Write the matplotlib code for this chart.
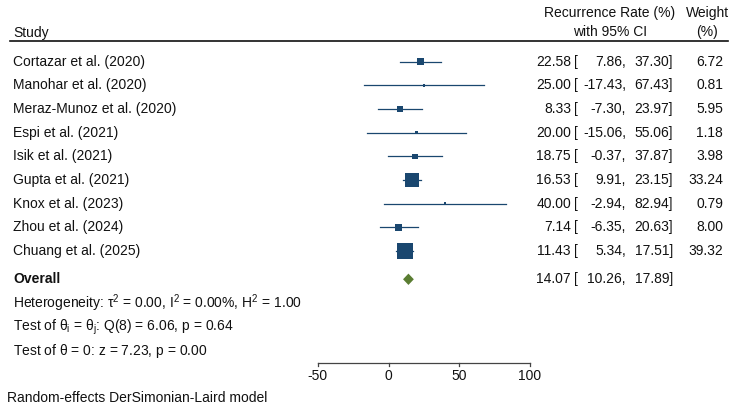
import matplotlib.pyplot as plt
from matplotlib import transforms

plt.rcParams['font.family'] = ['Liberation Sans', 'DejaVu Sans']
plt.rcParams['mathtext.fontset'] = 'custom'
plt.rcParams['mathtext.rm'] = 'Liberation Sans'
plt.rcParams['mathtext.it'] = 'Liberation Sans'

# data
studies = ['Cortazar et al. (2020)', 'Manohar et al. (2020)', 'Meraz-Munoz et al. (2020)',
           'Espi et al. (2021)', 'Isik et al. (2021)', 'Gupta et al. (2021)',
           'Knox et al. (2023)', 'Zhou et al. (2024)', 'Chuang et al. (2025)']
est = [22.58, 25.00, 8.33, 20.00, 18.75, 16.53, 40.00, 7.14, 11.43]
lo = [7.86, -17.43, -7.30, -15.06, -0.37, 9.91, -2.94, -6.35, 5.34]
hi = [37.30, 67.43, 23.97, 55.06, 37.87, 23.15, 82.94, 20.63, 17.51]
weight = [6.72, 0.81, 5.95, 1.18, 3.98, 33.24, 0.79, 8.00, 39.32]
overall = (14.07, 10.26, 17.89)
ticks = [-50, 0, 50, 100]

navy = '#1a476f'
green = '#5a7d32'
ink = '#111111'
W, H = 738, 413

fig = plt.figure(figsize=(W / 100, H / 100), dpi=100)
ax = fig.add_axes([0, 0, 1, 1])
ax.axis('off')
# x in effect units, y in row units
ax.set_xlim(-274.6, 247.0)
ax.set_ylim(14.854, -2.609)

tr = transforms.blended_transform_factory(fig.transFigure, ax.transData)


def txt(xpx, y, s, **kw):
    kw.setdefault('fontsize', 10)
    kw.setdefault('va', 'center')
    ax.text(xpx / W, y, s, transform=tr, color=ink, **kw)


def ci_cols(y, e, l, h):
    txt(571, y, f'{e:.2f}', ha='right')
    txt(574, y, '[', ha='left')
    txt(626, y, f'{l:.2f},', ha='right')
    txt(673, y, f'{h:.2f}]', ha='right')


# header
txt(13, -1.22, 'Study')
txt(610, -2.05, 'Recurrence Rate (%)', ha='center')
txt(610, -1.27, 'with 95% CI', ha='center')
txt(707, -2.05, 'Weight', ha='center')
txt(707, -1.27, '(%)', ha='center')
ax.plot([10 / W, 728 / W], [-0.875, -0.875], transform=tr, color=ink, lw=1.2)

rows = list(range(len(studies)))
for i in rows:
    txt(13, i, studies[i])
    ax.plot([lo[i], hi[i]], [i, i], color=navy, lw=0.9, zorder=2)
    ci_cols(i, est[i], lo[i], hi[i])
    txt(723, i, f'{weight[i]:.2f}', ha='right')

sizes = [3.4 * w for w in weight]
ax.scatter(est, rows, s=sizes, marker='s', color=navy, zorder=3, linewidths=0)

# overall diamond
yo = 9.2
o_est, o_lo, o_hi = overall
ax.fill([o_lo, o_est, o_hi, o_est], [yo, yo - 0.24, yo, yo + 0.24], color=green, lw=0, zorder=3)
txt(13, yo, 'Overall', fontweight='bold')
ci_cols(yo, o_est, o_lo, o_hi)

txt(13, 10.2, r'Heterogeneity: τ$^2$ = 0.00, I$^2$ = 0.00%, H$^2$ = 1.00')
txt(13, 11.25, r'Test of $\theta_i$ = $\theta_j$: Q(8) = 6.06, p = 0.64')
txt(13, 12.23, r'Test of $\theta$ = 0: z = 7.23, p = 0.00')

# axis
ya = 12.74
ax.plot([ticks[0], ticks[-1]], [ya, ya], color='#444444', lw=0.9)
for t in ticks:
    ax.plot([t, t], [ya, ya + 0.14], color='#444444', lw=0.9)
    ax.text(t, 13.3, str(t), ha='center', va='center', fontsize=10, color=ink)

txt(7, 14.22, 'Random-effects DerSimonian-Laird model')

fig.savefig('out.png', dpi=100)
